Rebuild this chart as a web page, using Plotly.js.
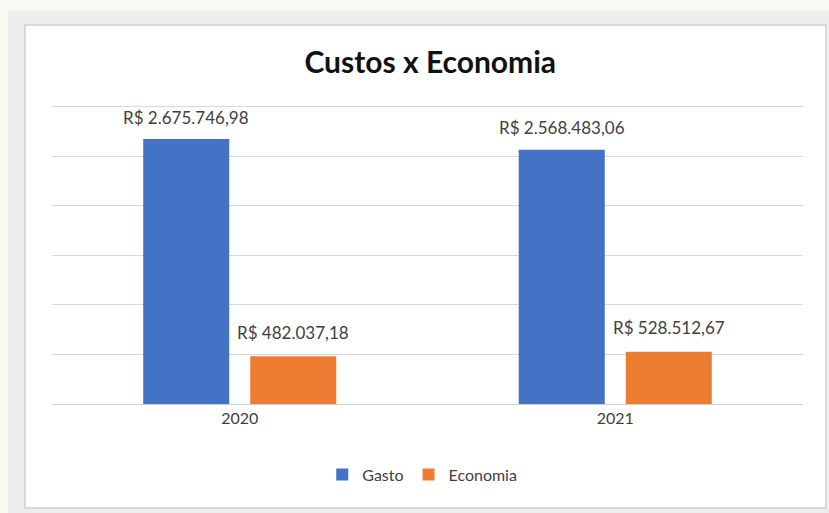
<!DOCTYPE html>
<html>
<head>
<meta charset="utf-8">
<script src="https://cdn.plot.ly/plotly-3.0.1.min.js"></script>
<style>html,body{margin:0;padding:0;background:#fbfbf6;}#chart{width:829px;height:513px;}</style>
</head>
<body>
<div id="chart"></div>
<script>
var categories = ['2020', '2021'];
var gasto = [2675746.98, 2568483.06];
var economia = [482037.18, 528512.67];
var gastoLabels = ['R$ 2.675.746,98', 'R$ 2.568.483,06'];
var economiaLabels = ['R$ 482.037,18', 'R$ 528.512,67'];

var fontFam = 'Lato, "Open Sans", sans-serif';

var traces = [
  {type: 'bar', name: 'Gasto', x: categories, y: gasto, marker: {color: '#4472C4'}, hoverinfo: 'none'},
  {type: 'bar', name: 'Economia', x: categories, y: economia, marker: {color: '#ED7D31'}, hoverinfo: 'none'}
];

// data labels built from the data arrays (x given as category index)
var annotations = [];
categories.forEach(function (c, i) {
  annotations.push({x: i, y: gasto[i], xref: 'x', yref: 'y', text: gastoLabels[i], showarrow: false,
    xshift: -53.5, yshift: 22, yanchor: 'middle', font: {family: fontFam, size: 17, color: '#404040'}});
  annotations.push({x: i, y: economia[i], xref: 'x', yref: 'y', text: economiaLabels[i], showarrow: false,
    xshift: 53.5, yshift: 24, yanchor: 'middle', font: {family: fontFam, size: 17, color: '#404040'}});
});

var layout = {
  width: 829, height: 513,
  paper_bgcolor: '#fbfbf6', plot_bgcolor: 'rgba(0,0,0,0)',
  margin: {l: 52, r: 26, t: 105, b: 109},
  font: {family: fontFam, color: '#404040'},
  title: {text: '<b>Custos x Economia</b>', x: 0.519, xanchor: 'center', y: 0.879, yanchor: 'middle',
          font: {family: fontFam, size: 30, color: '#111111'}},
  barmode: 'group', bargap: 0.43, bargroupgap: 0.196,
  xaxis: {type: 'category', range: [-0.5, 1.5], showline: true, linecolor: '#d0d0d0', linewidth: 1, ticks: '',
          tickfont: {family: fontFam, size: 16, color: '#404040'}, showgrid: false},
  yaxis: {range: [0, 3020000], tickvals: [500000, 1000000, 1500000, 2000000, 2500000, 3000000],
          showticklabels: false, gridcolor: '#d9d9d9', gridwidth: 1, zeroline: false, fixedrange: true},
  showlegend: true,
  legend: {orientation: 'h', x: 0.493, xanchor: 'center', y: -0.236, yanchor: 'middle',
           bgcolor: 'rgba(0,0,0,0)', font: {family: fontFam, size: 16, color: '#404040'},
           itemwidth: 30, traceorder: 'normal'},
  annotations: annotations,
  shapes: [
    {type: 'rect', xref: 'paper', yref: 'paper', x0: -0.0586, x1: 1.06, y0: -0.45, y1: 1.3177,
     fillcolor: '#eeeeee', line: {width: 0}, layer: 'below'},
    {type: 'rect', xref: 'paper', yref: 'paper', x0: -0.036, x1: 1.0306, y0: -0.3478, y1: 1.2676,
     fillcolor: '#ffffff', line: {color: '#cfcfcf', width: 1.5}, layer: 'below'}
  ]
};

Plotly.newPlot('chart', traces, layout, {displayModeBar: false, staticPlot: true});
</script>
</body>
</html>
